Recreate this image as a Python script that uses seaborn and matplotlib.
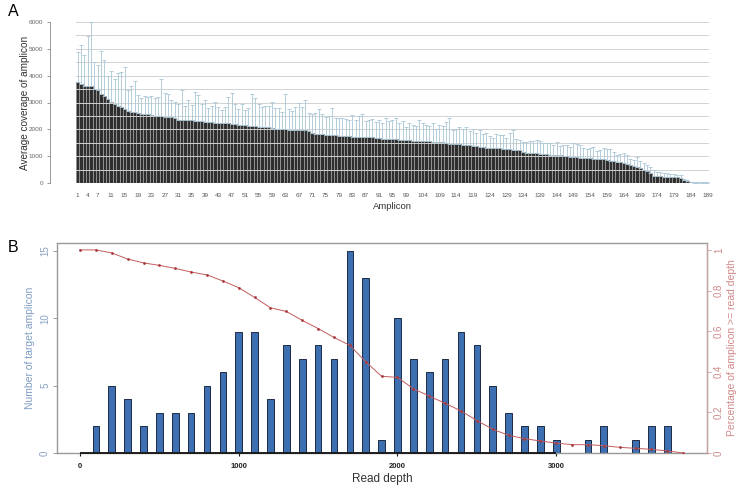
import numpy as np
import pandas as pd
import seaborn as sns
import matplotlib.pyplot as plt
from matplotlib.ticker import MultipleLocator

plt.rcParams['font.family'] = ['Liberation Sans', 'DejaVu Sans']

# panel A: average coverage per amplicon (sorted), upper end of error bar
coverage = [
    3760, 3680, 3630, 3610, 3600, 3490, 3480, 3320, 3240, 3140,
    3020, 2930, 2860, 2830, 2770, 2670, 2650, 2650, 2610, 2580,
    2570, 2560, 2530, 2510, 2500, 2480, 2470, 2460, 2450, 2440,
    2360, 2350, 2340, 2340, 2330, 2320, 2310, 2300, 2290, 2280,
    2260, 2250, 2240, 2230, 2220, 2220, 2210, 2200, 2180, 2160,
    2150, 2140, 2130, 2110, 2100, 2090, 2080, 2070, 2040, 2030,
    2020, 2010, 2000, 1990, 1990, 1980, 1980, 1970, 1960, 1950,
    1850, 1840, 1830, 1810, 1800, 1790, 1790, 1780, 1760, 1750,
    1740, 1740, 1730, 1730, 1720, 1720, 1710, 1700, 1700, 1690,
    1660, 1650, 1650, 1640, 1640, 1630, 1620, 1620, 1610, 1600,
    1580, 1570, 1560, 1560, 1550, 1550, 1540, 1530, 1520, 1510,
    1480, 1470, 1460, 1450, 1440, 1420, 1410, 1400, 1390, 1380,
    1350, 1340, 1320, 1310, 1300, 1290, 1290, 1280, 1280, 1270,
    1240, 1230, 1220, 1150, 1130, 1120, 1110, 1100, 1090, 1080,
    1070, 1060, 1050, 1040, 1030, 1000, 990, 980, 970, 960,
    950, 940, 930, 920, 910, 900, 890, 880, 860, 830,
    810, 790, 770, 740, 710, 680, 640, 600, 560, 500,
    430, 370, 270, 260, 250, 240, 240, 230, 220, 210,
    180, 110, 80, 20, 15, 15, 10, 10, 10,
]
coverage_upper = [
    4880, 5130, 4760, 5470, 6000, 4510, 4410, 4910, 4570, 3980,
    4160, 3890, 4100, 4140, 4320, 3450, 3630, 3790, 3290, 3150,
    3230, 3220, 3250, 3170, 3200, 3890, 3350, 3300, 3080, 3020,
    2960, 3480, 2880, 3080, 2890, 3380, 3270, 2960, 3110, 2800,
    2860, 3020, 2830, 2710, 2830, 3200, 3350, 2930, 2760, 2930,
    2710, 2800, 3320, 3180, 2950, 2850, 2870, 2870, 3010, 2780,
    2800, 2660, 3320, 2740, 2680, 2840, 2980, 2820, 3100, 2620,
    2580, 2610, 2760, 2590, 2470, 2500, 2810, 2410, 2440, 2430,
    2390, 2350, 2550, 2330, 2500, 2560, 2320, 2360, 2400, 2280,
    2330, 2250, 2440, 2300, 2360, 2420, 2240, 2320, 2080, 2250,
    2180, 2130, 2330, 2250, 2160, 2110, 2230, 2000, 2150, 2110,
    2290, 2440, 1960, 2000, 2080, 2030, 2080, 1950, 2000, 1880,
    1980, 1830, 1850, 1770, 1690, 1830, 1800, 1790, 1680, 1850,
    1990, 1650, 1620, 1510, 1530, 1550, 1560, 1600, 1560, 1500,
    1490, 1480, 1430, 1520, 1390, 1420, 1400, 1350, 1480, 1440,
    1410, 1320, 1260, 1300, 1340, 1200, 1230, 1300, 1260, 1270,
    1150, 1060, 1080, 1120, 1040, 900, 840, 960, 820, 740,
    660, 580, 500, 420, 400, 390, 380, 350, 340, 300,
    300, 160, 100, 30, 25, 25, 20, 20, 20,
]
amplicon_ticks = [1, 4, 7, 11, 15, 19, 23, 27, 31, 35, 39, 43, 47, 51, 55, 59,
                  63, 67, 71, 75, 79, 83, 87, 91, 95, 99, 104, 109, 114, 119,
                  124, 129, 134, 139, 144, 149, 154, 159, 164, 169, 174, 179,
                  184, 189]

# panel B: histogram of read depth and cumulative share
depth_bins = [100, 200, 300, 400, 500, 600, 700, 800, 900, 1000, 1100, 1200,
              1300, 1400, 1500, 1600, 1700, 1800, 1900, 2000, 2100, 2200, 2300,
              2400, 2500, 2600, 2700, 2800, 2900, 3000, 3200, 3300, 3500, 3600,
              3700]
n_amplicons = [2, 5, 4, 2, 3, 3, 3, 5, 6, 9, 9, 4, 8, 7, 8, 7, 15, 13, 1, 10,
               7, 6, 7, 9, 8, 5, 3, 2, 2, 1, 1, 2, 1, 2, 2]
depth_points = list(range(0, 3900, 100))
pct_above = [1.0, 1.0, 0.985, 0.955, 0.936, 0.924, 0.909, 0.891, 0.877, 0.847,
             0.814, 0.766, 0.715, 0.697, 0.653, 0.613, 0.569, 0.530, 0.449,
             0.378, 0.372, 0.317, 0.280, 0.245, 0.207, 0.160, 0.117, 0.087,
             0.071, 0.059, 0.049, 0.041, 0.041, 0.036, 0.028, 0.023, 0.018,
             0.010, 0.0]

W, H = 738, 493
fig = plt.figure(figsize=(W / 100, H / 100), dpi=100)

def box(l, t, r, b):
    return [l / W, 1 - b / H, (r - l) / W, (b - t) / H]

# ---------------- panel A
axa = fig.add_axes(box(76, 22, 709, 183))
dfa = pd.DataFrame({'amplicon': np.arange(1, len(coverage) + 1), 'cov': coverage})
sns.barplot(data=dfa, x='amplicon', y='cov', native_scale=True, width=1.0,
            color='#2e2e2e', saturation=1, edgecolor='#8e8e8e', linewidth=0.75,
            errorbar=None, ax=axa, zorder=2)
cov = np.array(coverage)
up = np.array(coverage_upper) - cov
axa.errorbar(dfa['amplicon'], cov, yerr=[np.zeros_like(up), up], fmt='none',
             ecolor='#a9c6d6', elinewidth=0.6, capsize=1.3, capthick=0.6, zorder=3)
axa.set_xlim(0.5, len(coverage) + 0.5)
axa.set_ylim(0, 6000)
axa.yaxis.set_major_locator(MultipleLocator(1000))
axa.yaxis.set_minor_locator(MultipleLocator(500))
axa.grid(axis='y', which='both', color='#cfd3d3', lw=0.7, zorder=4)
axa.set_axisbelow(False)
axa.set_xticks(amplicon_ticks)
axa.set_xticklabels([str(t) for t in amplicon_ticks], fontsize=4.6, color='#555555')
axa.tick_params(axis='x', length=0, pad=7)
axa.tick_params(axis='y', which='major', length=2.5, width=0.6, color='#888888',
                labelsize=4.6, labelcolor='#666666', pad=2)
axa.tick_params(axis='y', which='minor', length=0)
for lab in axa.get_yticklabels():
    lab.set_rotation(90)
    lab.set_va('center')
for s in ['top', 'right', 'bottom']:
    axa.spines[s].set_visible(False)
axa.spines['left'].set_position(('outward', 19))
axa.spines['left'].set_bounds(0, 6000)
axa.spines['left'].set_color('#888888')
axa.spines['left'].set_linewidth(0.6)
axa.set_xlabel('Amplicon', fontsize=6.8, color='#333333', labelpad=3)
axa.set_ylabel('Average coverage of amplicon', fontsize=7.2, color='#333333')
axa.yaxis.set_label_coords((30 - 76) / 633, 0.5)

# ---------------- panel B
axb = fig.add_axes(box(57, 243, 707, 453))
dfb = pd.DataFrame({'depth': depth_bins, 'n': n_amplicons})
sns.barplot(data=dfb, x='depth', y='n', native_scale=True, width=0.42,
            color='#3e6fb0', saturation=1, edgecolor='#1c2a44', linewidth=0.7,
            errorbar=None, ax=axb)
axb.set_xlim(-145, 3950)
axb.set_ylim(0, 15.6)
axb.set_yticks([0, 5, 10, 15])
axb.tick_params(axis='y', length=3, width=0.6, color='#888888', labelsize=7,
                labelcolor='#8aa2c4', pad=2)
for lab in axb.get_yticklabels():
    lab.set_rotation(90)
    lab.set_va('center')
xt = [0, 1000, 2000, 3000]
axb.set_xticks(xt)
axb.set_xticklabels([str(t) for t in xt], fontsize=5.5, fontweight='bold', color='#222222')
axb.tick_params(axis='x', length=2.5, width=0.8, color='#111111', pad=5)
axb.hlines(0, xt[0], xt[-1], color='#111111', lw=1.3, zorder=5, clip_on=False)
for s in axb.spines.values():
    s.set_color('#999999')
    s.set_linewidth(1.0)
axb.set_xlabel('Read depth', fontsize=8.5, color='#333333', labelpad=2)
axb.set_ylabel('Number of target amplicon', fontsize=7.5, color='#7f9cc2')
axb.yaxis.set_label_coords((35 - 57) / 650, 0.5)

axr = axb.twinx()
dfl = pd.DataFrame({'depth': depth_points, 'pct': pct_above})
sns.lineplot(data=dfl, x='depth', y='pct', color='#c45c5e', lw=0.7, marker='o',
             markersize=2.0, markeredgewidth=0, markerfacecolor='#a83a3e', ax=axr)
axr.set_ylim(0, 1.034)
axr.set_yticks([0, 0.2, 0.4, 0.6, 0.8, 1])
axr.set_yticklabels(['0', '0.2', '0.4', '0.6', '0.8', '1'])
axr.tick_params(axis='y', length=3, width=0.6, color='#d09a9a', labelsize=7,
                labelcolor='#d08888', pad=2)
for lab in axr.get_yticklabels():
    lab.set_rotation(90)
    lab.set_va('center')
for s in axr.spines.values():
    s.set_visible(False)
axr.spines['right'].set_visible(True)
axr.spines['right'].set_color('#c9a0a0')
axr.set_xlabel('')
axr.set_ylabel('Percentage of amplicon >= read depth', fontsize=7.5, color='#d08888')
axr.yaxis.set_label_coords((727 - 57) / 650, 0.5)

fig.text(8 / W, 1 - 12 / H, 'A', fontsize=11.5, va='center', ha='left')
fig.text(8 / W, 1 - 247 / H, 'B', fontsize=11.5, va='center', ha='left')

fig.savefig('out.png', dpi=100)
